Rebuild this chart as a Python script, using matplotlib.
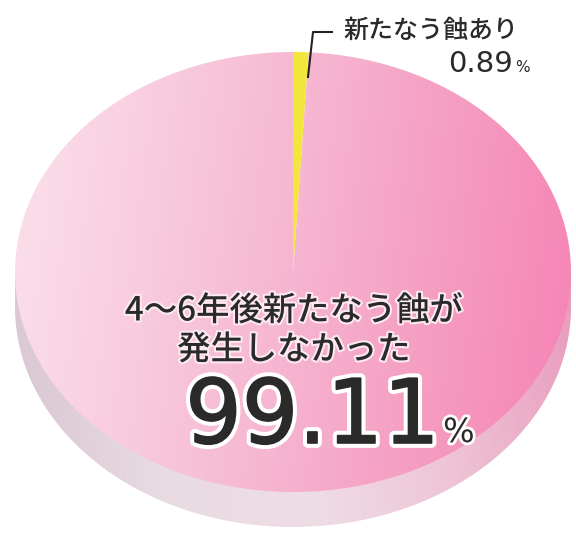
import matplotlib

matplotlib.use("Agg")
import matplotlib.patheffects as pe
import matplotlib.pyplot as plt
import numpy as np
from matplotlib.colors import LinearSegmentedColormap
from matplotlib.path import Path
from matplotlib.patches import PathPatch

# data
labels = ["新たなう蝕あり", "4〜6年後新たなう蝕が", "発生しなかった"]
shares = [0.89, 99.11]
share_texts = ["0.89", "99.11"]

JP = ["Noto Sans CJK JP", "DejaVu Sans"]
NUM = ["DejaVu Sans"]
INK = "#2a2a2a"

W, H = 576, 534
cx, cy, rx, ry = 293, 272, 278, 220
depth = 35 / ry

fig = plt.figure(figsize=(W / 100, H / 100), dpi=100)
ax = fig.add_axes([0, 0, 1, 1])
ax.axis("off")


def px(x, y):
    return x / W, 1 - y / H


# side of the disc (extrusion below the top face)
t = np.linspace(np.pi, 2 * np.pi, 300)
verts = [(-1, 0)] + list(zip(np.cos(t), np.sin(t) - depth)) + [(1, 0), (-1, 0)]
codes = [Path.MOVETO] + [Path.LINETO] * (len(verts) - 2) + [Path.CLOSEPOLY]
side = PathPatch(Path(verts, codes), facecolor="none", edgecolor="none")
ax.add_patch(side)
side_cmap = LinearSegmentedColormap.from_list(
    "side", ["#d6c2cf", "#e8dbe2", "#efdde6", "#eec3d5", "#e99cbd"]
)
gx = np.linspace(0, 1, 256)
gy = np.linspace(0, 1, 64)[:, None]
side_img = gx[None, :] * 0.92 + 0.08 * gy
im_side = ax.imshow(side_img, cmap=side_cmap, extent=(-1, 1, -1 - depth, 0),
                    aspect="auto", zorder=1, origin="lower", vmin=0, vmax=1)
im_side.set_clip_path(side)

# top face
wedges, _ = ax.pie(
    shares,
    colors=["#f2e63c", "none"],
    startangle=90,
    counterclock=False,
    radius=1,
    wedgeprops=dict(linewidth=0),
)
for w in wedges:
    w.set_zorder(3)

top_cmap = LinearSegmentedColormap.from_list(
    "top", ["#fbdde9", "#f8cadd", "#f6b5d0", "#f59ec2", "#f587b6"]
)
yy, xx = np.mgrid[-1:1:200j, -1:1:300j]
top_img = np.clip(0.5 + 0.5 * xx - 0.05 * yy, 0, 1)
im_top = ax.imshow(top_img, cmap=top_cmap, extent=(-1, 1, -1, 1),
                   aspect="auto", zorder=2, origin="lower", vmin=0, vmax=1)
im_top.set_clip_path(wedges[1])

ax.set_aspect("auto")
ax.set_xlim(-cx / rx, (W - cx) / rx)
ax.set_ylim(-(H - cy) / ry, cy / ry)

halo = [pe.Stroke(linewidth=7, foreground="white"),
        pe.Stroke(linewidth=1.2, foreground=INK), pe.Normal()]
small_halo = [pe.withStroke(linewidth=4, foreground="white")]
soft = [pe.withStroke(linewidth=3, foreground="#fde9f1")]

# big share label
fig.text(*px(294, 311), labels[1], ha="center", va="center", fontsize=24,
         family=JP, weight="medium", color=INK, path_effects=soft)
fig.text(*px(294, 350), labels[2], ha="center", va="center", fontsize=24,
         family=JP, weight="medium", color=INK, path_effects=soft)
fig.text(*px(440, 443), share_texts[1], ha="right", va="baseline", fontsize=64,
         family=NUM, color=INK, path_effects=halo)
fig.text(*px(443, 442), "%", ha="left", va="baseline", fontsize=24,
         family=NUM, color=INK, path_effects=small_halo)

# small share label with leader line
fig.text(*px(343, 31), labels[0], ha="left", va="center", fontsize=18,
         family=JP, weight="medium", color=INK)
fig.text(*px(513, 72), share_texts[0], ha="right", va="baseline", fontsize=21,
         family=NUM, color=INK)
fig.text(*px(515, 72), "%", ha="left", va="baseline", fontsize=11,
         family=NUM, color=INK)
lx, ly = zip(px(332, 32), px(313, 32), px(308, 77))
fig.add_artist(plt.Line2D(lx, ly, color="#222222", lw=1.5, transform=fig.transFigure))

fig.savefig("out.png", dpi=100)
